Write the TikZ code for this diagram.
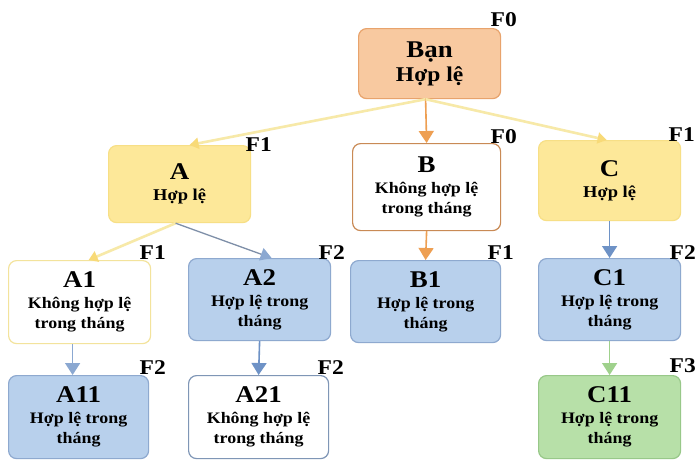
\documentclass[tikz,border=0pt]{standalone}
\usepackage{fontspec}
\setmainfont[FakeStretch=1.12]{Liberation Serif}
\usetikzlibrary{arrows.meta}

\definecolor{orfill}{HTML}{F8C9A0}
\definecolor{ordraw}{HTML}{E8A36C}
\definecolor{yefill}{HTML}{FDE899}
\definecolor{yedraw}{HTML}{F7DF86}
\definecolor{blfill}{HTML}{B8D0EC}
\definecolor{bldraw}{HTML}{8EA9CF}
\definecolor{grfill}{HTML}{B7E0A8}
\definecolor{grdraw}{HTML}{98C889}
\definecolor{brdraw}{HTML}{C98A55}
\definecolor{pyedraw}{HTML}{F3E39C}
\definecolor{sldraw}{HTML}{7F96B6}
\definecolor{yeline}{HTML}{F7E9A8}
\definecolor{yetip}{HTML}{F8DA78}
\definecolor{orline}{HTML}{EE9F52}
\definecolor{blline}{HTML}{6E92C6}
\definecolor{grayline}{HTML}{7E8FA8}
\definecolor{grline}{HTML}{9FD18C}

\tikzset{
  box/.style={rounded corners=8pt, line width=1.2pt, align=center,
    font=\bfseries\fontsize{16}{20}\selectfont, inner sep=0pt, anchor=north west},
  lvl/.style={font=\bfseries\fontsize{21}{21}\selectfont, anchor=south east, inner sep=0pt},
  link/.style={line width=1.6pt, -{Triangle[width=15pt,length=12pt]}},
  ylink/.style={line width=2.6pt, draw=yeline,
    -{Triangle[width=11pt,length=9pt,color=yetip,fill=yetip]}},
}
\newcommand{\ttl}[1]{{\fontsize{24}{26}\selectfont #1}}

\begin{document}
\begin{tikzpicture}[x=1pt,y=-1pt]
\useasboundingbox (0,0) rectangle (695,466);
\fill[white] (0,0) rectangle (695,466);

% boxes: position is the top-left corner
\node[box, fill=orfill, draw=ordraw, minimum width=142pt, minimum height=70pt]
  (ban) at (358,28) {\ttl{Bạn}\\[4pt]{\fontsize{21}{22}\selectfont Hợp lệ}};
\node[box, fill=yefill, draw=yedraw, minimum width=142pt, minimum height=77pt]
  (a) at (108,145) {\ttl{A}\\[1pt]{\fontsize{16.5}{18}\selectfont Hợp lệ}};
\node[box, fill=white, draw=brdraw, minimum width=148pt, minimum height=87pt]
  (b) at (352,143) {\ttl{B}\\[1pt]Không hợp lệ\\trong tháng};
\node[box, fill=yefill, draw=yedraw, minimum width=142pt, minimum height=80pt]
  (c) at (538,140) {\ttl{C}\\[1pt]{\fontsize{16.5}{18}\selectfont Hợp lệ}};

\node[box, fill=white, draw=pyedraw, minimum width=142pt, minimum height=83pt]
  (a1) at (8,260) {\ttl{A1}\\[1pt]Không hợp lệ\\trong tháng};
\node[box, fill=blfill, draw=bldraw, minimum width=142pt, minimum height=82pt]
  (a2) at (188,258) {\ttl{A2}\\[1pt]Hợp lệ trong\\tháng};
\node[box, fill=blfill, draw=bldraw, minimum width=150pt, minimum height=82pt]
  (b1) at (350,260) {\ttl{B1}\\[1pt]Hợp lệ trong\\tháng};
\node[box, fill=blfill, draw=bldraw, minimum width=142pt, minimum height=82pt]
  (c1) at (538,258) {\ttl{C1}\\[1pt]Hợp lệ trong\\tháng};

\node[box, fill=blfill, draw=bldraw, minimum width=140pt, minimum height=83pt]
  (a11) at (8,375) {\ttl{A11}\\[1pt]Hợp lệ trong\\tháng};
\node[box, fill=white, draw=sldraw, minimum width=140pt, minimum height=83pt]
  (a21) at (188,375) {\ttl{A21}\\[1pt]Không hợp lệ\\trong tháng};
\node[box, fill=grfill, draw=grdraw, minimum width=142pt, minimum height=83pt]
  (c11) at (538,375) {\ttl{C11}\\[1pt]Hợp lệ trong\\tháng};

% level tags at the upper right of each box
\node[lvl] (fban) at (517,27) {F0};
\node[lvl] (fa) at (272,152) {F1};
\node[lvl] (fb) at (517,144) {F0};
\node[lvl] (fc) at (695,142) {F1};
\node[lvl] (fa1) at (166,260) {F1};
\node[lvl] (fa2) at (345,260) {F2};
\node[lvl] (fb1) at (514,260) {F1};
\node[lvl] (fc1) at (696,260) {F2};
\node[lvl] (fa11) at (166,375) {F2};
\node[lvl] (fa21) at (344,375) {F2};
\node[lvl] (fc11) at (696,373) {F3};

% connectors
\draw[ylink] ([xshift=-4pt]ban.south) -- ([xshift=10pt]a.north);
\draw[link, draw=orline] ([xshift=-4pt]ban.south) -- (b.north);
\draw[ylink] ([xshift=-4pt]ban.south) -- ([xshift=-3pt]c.north);
\draw[ylink] ([xshift=-4pt]a.south) -- ([xshift=9pt]a1.north);
\draw[line width=1.3pt, draw=grayline,
  -{Triangle[width=13pt,length=11pt,color=blline!80,fill=blline!80]}]
  ([xshift=-4pt]a.south) -- ([xshift=12pt]a2.north);
\draw[link, draw=orline] (b.south) -- (b1.north);
\draw[link, draw=blline] (c.south) -- (c1.north);
\draw[link, draw=blline!80] ([xshift=-7pt]a1.south) -- ([xshift=-6pt]a11.north);
\draw[link, draw=blline] (a2.south) -- (a21.north);
\draw[link, draw=grline] (c1.south) -- (c11.north);
\end{tikzpicture}
\end{document}
